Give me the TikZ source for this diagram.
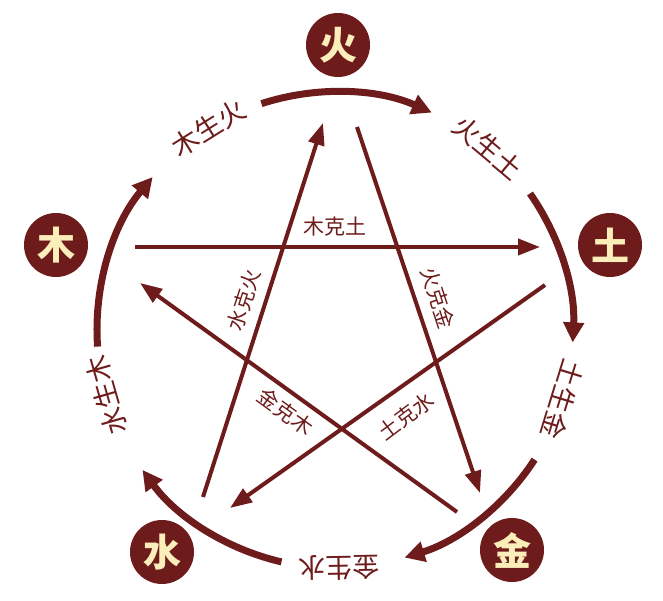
\documentclass[tikz,border=0pt]{standalone}
\usepackage{fontspec}
\setmainfont{Noto Sans CJK SC}
\usetikzlibrary{arrows.meta,calc}
\definecolor{maroon}{HTML}{6E1B1B}
\definecolor{cream}{HTML}{FBEEBB}
\tikzset{
elem/.style={circle, fill=maroon, minimum size=64pt, inner sep=0pt, text=cream, font=\fontsize{38}{38}\selectfont\bfseries},
sheng/.style={maroon, font=\fontsize{27}{27}\selectfont},
ke/.style={maroon, font=\fontsize{21}{21}\selectfont},
ring/.style={maroon, line width=7pt, -{Triangle[length=20pt,width=20pt]}},
kearrow/.style={maroon, line width=4pt, -{Triangle[length=22pt,width=16pt]}},
}
\begin{document}
\begin{tikzpicture}[x=1pt,y=1pt]
\useasboundingbox (0,0) rectangle (663,601);
\coordinate (c) at (335,271);
% the five elements
\node[elem] (huo) at (338,556) {火};
\node[elem] (tu) at (610,356) {土};
\node[elem] (jin) at (512,51) {金};
\node[elem] (shui) at (162,49) {水};
\node[elem] (mu) at (56,356) {木};
% generating cycle
\foreach \a/\b in {108/66, 35/-3, -33/-73, -103/-144, 184/140}
  \draw[ring] ($(c)+(\a:238)$) arc[start angle=\a, end angle=\b, radius=238];
\foreach \t/\a in {木生火/122, 火生土/50, 土生金/-17, 金生水/-89, 水生木/196}
  \node[sheng, rotate=\a-90] (s\a) at ($(c)+(\a:238)$) {\t};
% controlling star
\coordinate (k1a) at (135,354); \coordinate (k1b) at (540,354);
\coordinate (k2a) at (357,474); \coordinate (k2b) at (480,108);
\coordinate (k3a) at (457,89); \coordinate (k3b) at (140,318);
\coordinate (k4a) at (203,104); \coordinate (k4b) at (323,478);
\coordinate (k5a) at (545,316); \coordinate (k5b) at (230,93);
\foreach \i in {1,...,5}
  \draw[kearrow] (k\i a) -- (k\i b);
\node[ke] (mutu) at (335,374) {木克土};
\node[ke, rotate=-72] (huojin) at (438,303) {火克金};
\node[ke, rotate=-36] (jinmu) at (286,189) {金克木};
\node[ke, rotate=72] (shuihuo) at (244,301) {水克火};
\node[ke, rotate=37] (tushui) at (406,185) {土克水};
\end{tikzpicture}
\end{document}
